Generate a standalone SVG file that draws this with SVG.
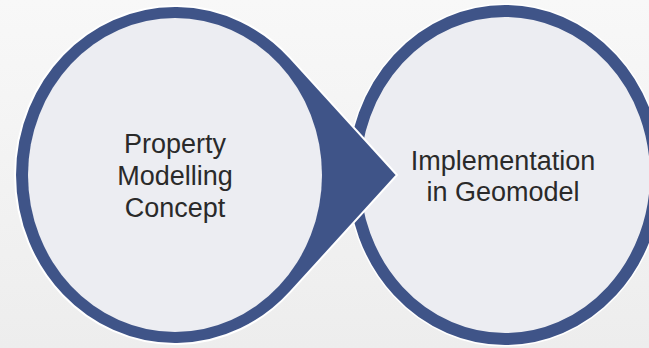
<svg xmlns="http://www.w3.org/2000/svg" width="649" height="348" viewBox="0 0 649 348">
  <defs>
    <linearGradient id="bg" x1="0" y1="0" x2="0" y2="1">
      <stop offset="0" stop-color="#f8f8f8"/>
      <stop offset="1" stop-color="#ededed"/>
    </linearGradient>
  </defs>
  <style>
    .lbl { font-family: "Liberation Sans", Arial, sans-serif; font-size: 27px; fill: #2a2a2a; text-anchor: middle; }
    .ring { fill: #ecedf2; stroke: #3f5488; stroke-width: 12; }
    .halo { fill: none; stroke: #ffffff; stroke-width: 15; }
    .dark { fill: #3f5488; stroke: #ffffff; stroke-width: 2; stroke-linejoin: miter; }
    .inner { fill: #ecedf2; }
  </style>
  <rect x="0" y="0" width="649" height="348" fill="url(#bg)"/>
  <g id="node-implementation">
    <ellipse class="halo" cx="505" cy="175" rx="151" ry="164"/>
    <ellipse class="ring" cx="505" cy="175" rx="151" ry="164"/>
    <text class="lbl" x="503" y="170">Implementation</text>
    <text class="lbl" x="503" y="201">in Geomodel</text>
  </g>
  <g id="connectors">
    <path class="dark" d="M397,175 L290.3,57.8 A160,169 0 1,0 290.3,292.2 Z"/>
  </g>
  <g id="node-property">
    <ellipse class="inner" cx="175" cy="175" rx="147" ry="157"/>
    <text class="lbl" x="175" y="153">Property</text>
    <text class="lbl" x="175" y="185">Modelling</text>
    <text class="lbl" x="175" y="217">Concept</text>
  </g>
</svg>
